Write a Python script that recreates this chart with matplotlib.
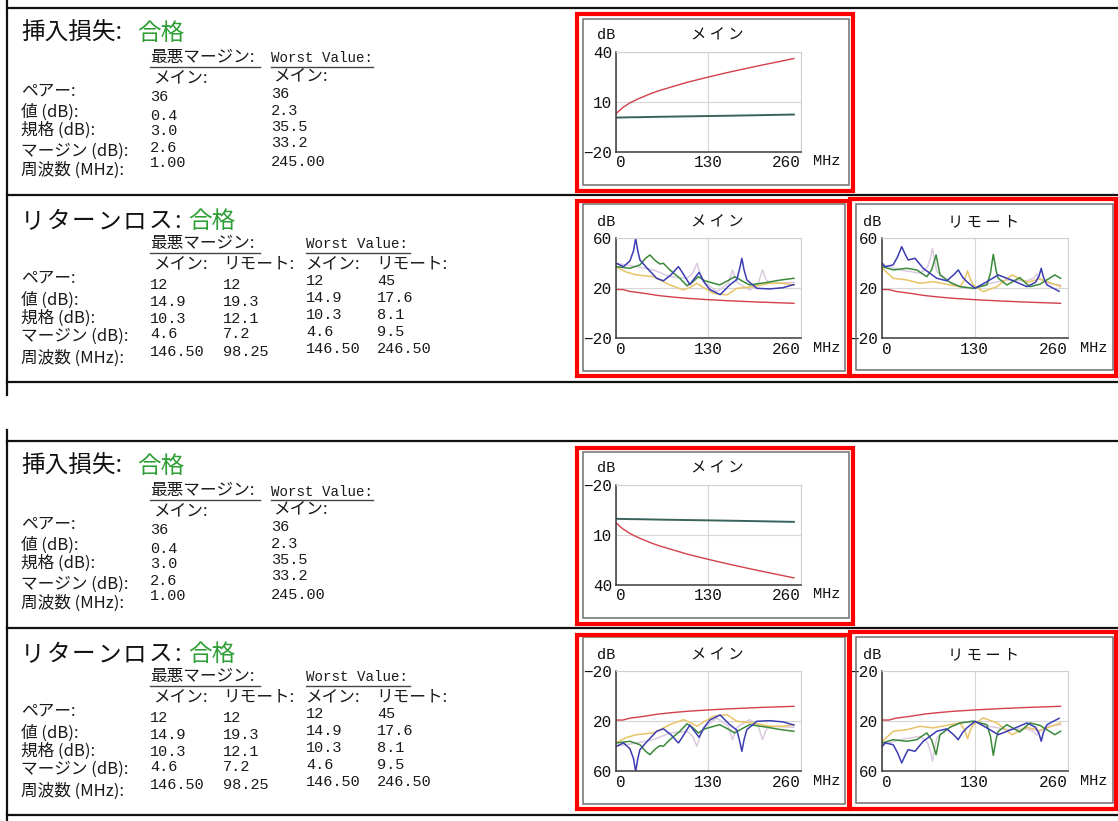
import matplotlib
matplotlib.use("Agg")
import matplotlib.pyplot as plt
from matplotlib.lines import Line2D
from matplotlib.patches import Rectangle

plt.rcParams['font.family'] = ['Noto Sans CJK JP', 'DejaVu Sans']

# ---------------- data ----------------
row_labels = ['ペアー:', '値 (dB):', '規格 (dB):', 'マージン (dB):', '周波数 (MHz):']

il_worst_margin_main = ['36', '0.4', '3.0', '2.6', '1.00']
il_worst_value_main = ['36', '2.3', '35.5', '33.2', '245.00']

rl_worst_margin_main = ['12', '14.9', '10.3', '4.6', '146.50']
rl_worst_margin_remote = ['12', '19.3', '12.1', '7.2', '98.25']
rl_worst_value_main = ['12', '14.9', '10.3', '4.6', '146.50']
rl_worst_value_remote = ['45', '17.6', '8.1', '9.5', '246.50']

x_ticks = [0, 130, 260]
x_tick_labels = ['0', '130', '260']
il_y_ticks = [-20, 10, 40]
rl_y_ticks = [-20, 20, 60]

# insertion loss (dB vs MHz)
il_freq = [1, 4, 10, 20, 31, 50, 62, 100, 130, 160, 200, 250]
il_limit = [3.0, 4.2, 6.5, 9.3, 11.6, 15.0, 16.8, 21.6, 24.8, 27.8, 31.5, 35.9]
il_meas = [0.4, 0.5, 0.55, 0.65, 0.7, 0.85, 0.95, 1.2, 1.4, 1.6, 1.9, 2.3]

# return loss limit
rl_freq = [1, 10, 20, 40, 60, 80, 100, 130, 160, 200, 250]
rl_limit = [19.0, 19.0, 17.5, 16.0, 14.2, 13.0, 12.0, 10.9, 10.0, 9.0, 8.0]

# return loss main
main_blue_f = [1, 11, 20, 25, 28, 31, 34, 43.5, 57.5, 67, 78, 85, 88, 92, 104, 112, 117,
               124, 132, 146.5, 160, 170, 174, 177, 180, 184, 198, 216, 235, 250]
main_blue_v = [40, 37.3, 42, 50, 60, 50, 42.7, 36.5, 28, 26, 31, 35.5, 37.3, 34, 23, 29, 32.8,
               25, 19, 14.9, 22.7, 27, 36, 44, 35, 26.7, 20, 19.5, 20.5, 23]
main_green_f = [1, 20, 34, 42, 48, 54, 57.5, 62, 67, 72, 76, 90, 100, 108, 116, 125, 146,
                157, 167, 177, 188, 210, 230, 250]
main_green_v = [37.3, 36, 38.7, 44, 46.7, 43, 41.3, 39.5, 40, 37, 34.7, 28, 22, 25, 29.3, 26,
                22.7, 26, 29.3, 26, 22.7, 24.5, 26.5, 28]
main_yellow_f = [1, 15, 29, 53, 76, 95, 105, 114, 125, 137, 156, 170, 193, 216, 235, 250]
main_yellow_v = [37, 33, 30.7, 29.3, 22.7, 18.7, 21, 24, 20, 16, 14.7, 20, 21.3, 24, 24, 22.7]
main_light_f = [1, 29, 53, 76, 100, 108, 114, 119, 123, 142, 158, 164, 168, 172, 188, 200,
                206, 211, 216, 250]
main_light_v = [40, 37.3, 34.7, 29.3, 28, 32, 40, 31, 25.3, 17.3, 24, 34.7, 27, 24, 18.7, 24,
                34.7, 27, 24, 24.8]

# return loss remote
rem_blue_f = [1, 4.7, 16, 22, 28, 33, 37, 46.6, 58, 77, 91, 101, 107, 113, 119, 130.5, 147,
              163, 184, 203, 215, 220, 223, 226, 231, 248]
rem_blue_v = [40, 37.3, 38.7, 45, 53.3, 47, 42.7, 44, 36, 28, 26, 31, 34.7, 29, 25.3, 20, 25.3,
              30.7, 26, 21.3, 24.8, 30, 36, 29, 22.7, 17.6]
rem_green_f = [1, 16, 35, 49, 63, 70, 73, 76, 79, 81.5, 95.5, 109.5, 128, 147, 152, 156, 160,
               163, 175, 193, 207, 221, 242, 250]
rem_green_v = [37.3, 34.7, 36, 34.7, 29.3, 35, 41, 46.7, 38, 30.7, 24.8, 21.3, 20, 22.7, 32,
               47.2, 34, 28, 22.7, 28.5, 21.3, 23.2, 30.7, 28]
rem_yellow_f = [1, 16, 35, 53.6, 72, 95.5, 109.5, 116, 120, 124, 128, 142, 161, 182, 203, 221, 250]
rem_yellow_v = [36, 28, 26.7, 24, 25.3, 22.7, 21.3, 27, 33.9, 27, 22.7, 17.3, 21.3, 30.7, 24.8,
                27.5, 21.3]
rem_light_f = [1, 26, 53.6, 64, 68, 71, 74, 77, 100, 128, 151, 175, 203, 212, 217, 222, 231, 250]
rem_light_v = [38.7, 34.7, 32, 37, 44, 52, 42, 33.3, 22.7, 19.5, 24, 26.7, 26, 28, 31.2, 27,
               24, 22.7]

# ---------------- styling ----------------
W, H = 1118, 821
fig = plt.figure(figsize=(W / 100, H / 100), dpi=100)
fig.patch.set_facecolor('white')

JP = 'Noto Sans CJK JP'
MONO = ['Liberation Mono', 'DejaVu Sans Mono']
GREEN_TXT = '#2f9e35'
RED_LIM = '#d2404c'
C_BLUE = '#3c3cb4'
C_GREEN = '#3a8a3a'
C_YELLOW = '#e8c466'
C_LIGHT = '#dccbe0'
C_IL = '#3a625c'
NUM_FS = 11
HDR_FS = 10.2
JP_FS = 12
TXT_C = '#1a1a1a'


def fx(x):
    return x / W


def fy(y):
    return 1 - y / H


def txt(x, y, s, **kw):
    kw.setdefault('va', 'center')
    fig.text(fx(x), fy(y), s, **kw)


def line(x0, y0, x1, y1, **kw):
    fig.add_artist(Line2D([fx(x0), fx(x1)], [fy(y0), fy(y1)],
                          transform=fig.transFigure, **kw))


def rect(x0, y0, x1, y1, **kw):
    fig.add_artist(Rectangle((fx(x0), fy(y1)), fx(x1) - fx(x0), fy(y0) - fy(y1),
                             transform=fig.transFigure, fill=False, **kw))


# ---------------- page lines ----------------
for off in (0, 433):
    for y in (8, 195, 382):
        line(7, y + off, W, y + off, color='#111111', lw=1.6)
line(7, 0, 7, 395, color='#111111', lw=1.6)
line(7, 430, 7, H, color='#111111', lw=1.6)


# ---------------- text panels ----------------
def il_panel(off):
    txt(21, 33 + off, '挿入損失:', fontsize=17, family=JP, color='#111111')
    txt(137, 33 + off, '合格', fontsize=17, family=JP, color=GREEN_TXT)
    txt(150, 57.5 + off, '最悪マージン:', fontsize=JP_FS, family=JP, color=TXT_C)
    line(150, 67 + off, 260, 67 + off, color='#444444', lw=1)
    txt(271, 58.5 + off, 'Worst Value:', fontsize=HDR_FS, family=MONO, color=TXT_C)
    line(271, 67 + off, 373, 67 + off, color='#444444', lw=1)
    txt(153, 77.5 + off, 'メイン:', fontsize=JP_FS, family=JP, color=TXT_C)
    txt(273, 75.5 + off, 'メイン:', fontsize=JP_FS, family=JP, color=TXT_C)
    lab_y = [90.7, 112.7, 130, 151, 170.7]
    c1_y = [96.7, 115.7, 130.7, 148.3, 163.3]
    c2_y = [94.3, 111, 126.7, 143.3, 162.3]
    for i in range(5):
        txt(21, lab_y[i] + off, row_labels[i], fontsize=JP_FS, family=JP, color=TXT_C)
        txt(150, c1_y[i] + off, il_worst_margin_main[i], fontsize=NUM_FS, family=MONO, color=TXT_C)
        txt(271, c2_y[i] + off, il_worst_value_main[i], fontsize=NUM_FS, family=MONO, color=TXT_C)


def rl_panel(off):
    for i, ch in enumerate('リターンロス'):
        txt(21 + i * 25.5, 221.7 + off, ch, fontsize=17, family=JP, color='#111111')
    txt(174, 221.7 + off, ':', fontsize=17, family=JP, color='#111111')
    txt(188, 221.7 + off, '合格', fontsize=17, family=JP, color=GREEN_TXT)
    txt(150, 243 + off, '最悪マージン:', fontsize=JP_FS, family=JP, color=TXT_C)
    line(150, 253 + off, 260, 253 + off, color='#444444', lw=1)
    txt(306, 244 + off, 'Worst Value:', fontsize=HDR_FS, family=MONO, color=TXT_C)
    line(306, 253 + off, 410, 253 + off, color='#444444', lw=1)
    for x, s in ((153, 'メイン:'), (223, 'リモート:'), (305, 'メイン:'), (376, 'リモート:')):
        txt(x, 264 + off, s, fontsize=JP_FS, family=JP, color=TXT_C)
    lab_y = [278.3, 300, 318.3, 336.7, 358.3]
    a_y = [285, 302.3, 319, 334, 352.3]
    b_y = [280.7, 298.3, 315, 331.7, 349.3]
    for i in range(5):
        txt(21, lab_y[i] + off, row_labels[i], fontsize=JP_FS, family=JP, color=TXT_C)
        txt(150, a_y[i] + off, rl_worst_margin_main[i], fontsize=NUM_FS, family=MONO, color=TXT_C)
        txt(223, a_y[i] + off, rl_worst_margin_remote[i], fontsize=NUM_FS, family=MONO, color=TXT_C)
        txt(306, b_y[i] + off, rl_worst_value_main[i], fontsize=NUM_FS, family=MONO, color=TXT_C)
        txt(377, b_y[i] + off, rl_worst_value_remote[i], fontsize=NUM_FS, family=MONO, color=TXT_C)


il_panel(0)
rl_panel(0)
il_panel(433)
rl_panel(433)


# ---------------- charts ----------------
def chart(left, top, right, bottom, ylim, yticks, title, series, frame, redbox):
    rect(*frame, edgecolor='#707070', lw=1.1, zorder=3)
    rect(*redbox, edgecolor='#ff0000', lw=3.0, zorder=5)
    ax = fig.add_axes([fx(left), fy(bottom), fx(right) - fx(left), fy(top) - fy(bottom)])
    ax.set_facecolor('white')
    ax.set_xlim(0, 260)
    ax.set_ylim(*ylim)
    ax.set_xticks(x_ticks)
    ax.set_xticklabels(x_tick_labels, family=MONO, fontsize=11.5, color='#111111')
    labs = ax.get_xticklabels()
    labs[0].set_ha('left')
    labs[-1].set_ha('right')
    ax.set_yticks(yticks)
    ax.set_yticklabels([str(v).replace('-', '\u2212') for v in yticks],
                       family=MONO, fontsize=11.5, color='#111111')
    ax.tick_params(length=0, pad=2.5)
    ax.grid(True, color='#d6d6d6', lw=0.8)
    for s in ('left', 'bottom'):
        ax.spines[s].set_color('#3a3a3a')
        ax.spines[s].set_linewidth(1.1)
    for s in ('top', 'right'):
        ax.spines[s].set_color('#cfcfcf')
        ax.spines[s].set_linewidth(0.8)
    for f, v, c, lw in series:
        ax.plot(f, v, color=c, lw=lw, solid_joinstyle='round')
    cx = (left + right) / 2 + 8.5
    txt(cx, top - 16.5, title, fontsize=11, family=JP, color='#111111', ha='center')
    txt(left - 9.5, top - 16.5, 'dB', fontsize=11, family=MONO, color='#111111', ha='center')
    txt(right + 25.5, bottom + 9.5, 'MHz', fontsize=11, family=MONO, color='#111111', ha='center')
    return ax


il_series = [(il_freq, il_meas, C_IL, 1.4), (il_freq, il_limit, RED_LIM, 1.0)]
main_series = [(main_light_f, main_light_v, C_LIGHT, 1.1),
               (main_yellow_f, main_yellow_v, C_YELLOW, 1.1),
               (main_green_f, main_green_v, C_GREEN, 1.1),
               (main_blue_f, main_blue_v, C_BLUE, 1.1),
               (rl_freq, rl_limit, RED_LIM, 1.0)]
rem_series = [(rem_light_f, rem_light_v, C_LIGHT, 1.1),
              (rem_yellow_f, rem_yellow_v, C_YELLOW, 1.1),
              (rem_green_f, rem_green_v, C_GREEN, 1.1),
              (rem_blue_f, rem_blue_v, C_BLUE, 1.1),
              (rl_freq, rl_limit, RED_LIM, 1.0)]

for off, inverted in ((0, False), (433, True)):
    il_lim = (40, -20) if inverted else (-20, 40)
    rl_lim = (60, -20) if inverted else (-20, 60)
    chart(615.7, 51.7 + off, 801, 151.7 + off, il_lim, il_y_ticks, 'メ イ ン', il_series,
          (583.3, 19 + off, 849.3, 185 + off), (577, 14.5 + off, 853, 191 + off))
    chart(615.7, 238.3 + off, 801, 338.3 + off, rl_lim, rl_y_ticks, 'メ イ ン', main_series,
          (582.7, 204.3 + off, 845, 371 + off), (577, 201.5 + off, 849, 376 + off))
    chart(881.7, 238.3 + off, 1067.7, 338.3 + off, rl_lim, rl_y_ticks, 'リ モ ー ト', rem_series,
          (856, 204 + off, 1113, 370 + off), (849.5, 199 + off, 1116, 376 + off))

fig.savefig('out.png', dpi=100, facecolor='white')
